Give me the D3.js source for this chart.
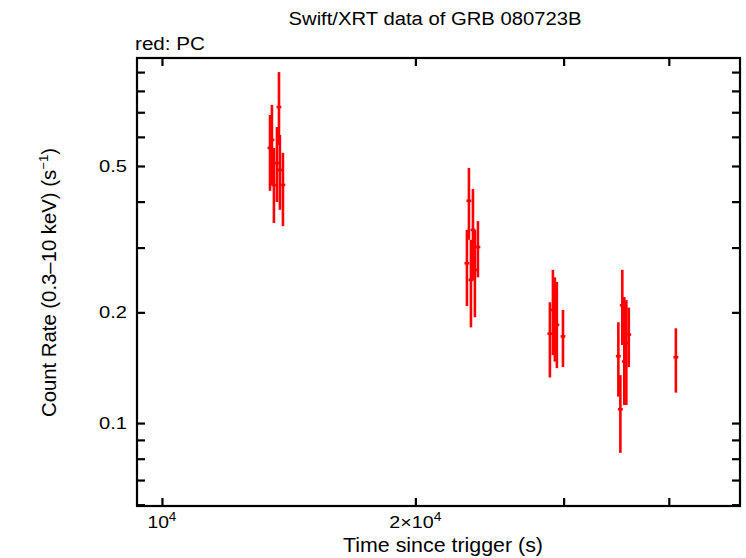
<!DOCTYPE html>
<html><head><meta charset="utf-8">
<script src="https://cdn.jsdelivr.net/npm/d3@7"></script>
<style>
html,body{margin:0;padding:0;background:#fff;}
text{font-family:"Liberation Sans",Arial,Helvetica,sans-serif;fill:#000;}
</style></head>
<body>
<svg id="chart" width="746" height="558"></svg>
<script>
// Data: time since trigger (s), count rate (s^-1), lower / upper rate bounds, half time-bin (s)
const times = [13438,13509,13583,13696,13772,13807,13922,
               23028,23155,23283,23411,23536,23732,
               28895,29135,29290,29451,29947,
               34845,35037,35224,35418,35614,35855,40780];
const rates = [0.560,0.589,0.444,0.509,0.723,0.488,0.444,
               0.272,0.402,0.245,0.335,0.261,0.301,
               0.175,0.203,0.193,0.185,0.172,
               0.152,0.109,0.209,0.147,0.165,0.174,0.151];
const rateLo = [0.428,0.444,0.350,0.399,0.570,0.380,0.343,
                0.208,0.315,0.182,0.245,0.194,0.249,
                0.133,0.153,0.147,0.141,0.142,
                0.118,0.083,0.163,0.112,0.112,0.142,0.121];
const rateHi = [0.688,0.733,0.560,0.638,0.900,0.607,0.543,
                0.335,0.494,0.315,0.433,0.335,0.354,
                0.213,0.261,0.249,0.242,0.203,
                0.188,0.135,0.261,0.220,0.216,0.206,0.181];
const timeErr = [90,90,90,90,90,90,90,
                 155,155,155,155,155,155,
                 195,195,195,195,195,
                 235,235,235,235,235,235,275];

const xTickVals = [10000,20000,30000,40000];
const xTickLabels = [["10","4"],["2×10","4"],null,null];
const yTickVals = [0.06,0.07,0.08,0.09,0.1,0.2,0.3,0.4,0.5,0.6,0.7,0.8,0.9];
const yTickLabels = {"0.1":"0.1","0.2":"0.2","0.5":"0.5"};

const W = 746, H = 558;
const m = {left:137, right:6, top:58, bottom:52};
const pw = W - m.left - m.right, ph = H - m.top - m.bottom;

const svg = d3.select("#chart");
const x = d3.scaleLog().domain([9340,48600]).range([m.left, m.left+pw]);
const y = d3.scaleLog().domain([0.0595,0.983]).range([m.top+ph, m.top]);

const data = times.map((t,i)=>({t, r:rates[i], lo:rateLo[i], hi:rateHi[i], te:timeErr[i]}));

// data
const g = svg.append("g");
g.selectAll("line.ey").data(data).enter().append("line")
  .attr("x1",d=>x(d.t)).attr("x2",d=>x(d.t))
  .attr("y1",d=>y(d.lo)).attr("y2",d=>y(d.hi))
  .attr("stroke","#ff0000").attr("stroke-width",2.6);
g.selectAll("line.ex").data(data).enter().append("line")
  .attr("x1",d=>x(d.t-d.te)).attr("x2",d=>x(d.t+d.te))
  .attr("y1",d=>y(d.r)).attr("y2",d=>y(d.r))
  .attr("stroke","#ff0000").attr("stroke-width",2.6);

// frame
svg.append("rect").attr("x",m.left).attr("y",m.top).attr("width",pw).attr("height",ph)
  .attr("fill","none").attr("stroke","#000").attr("stroke-width",2.2);

// axes (ticks inward on all four sides)
const tl = 8;
const axB = d3.axisBottom(x).tickValues(xTickVals).tickSize(-tl).tickFormat("");
const axT = d3.axisTop(x).tickValues(xTickVals).tickSize(-tl).tickFormat("");
const axL = d3.axisLeft(y).tickValues(yTickVals).tickSize(-tl).tickFormat("");
const axR = d3.axisRight(y).tickValues(yTickVals).tickSize(-tl).tickFormat("");
function style(sel){ sel.select(".domain").remove(); sel.selectAll(".tick line").attr("stroke","#000").attr("stroke-width",2.2); }
svg.append("g").attr("transform",`translate(0,${m.top+ph})`).call(axB).call(style);
svg.append("g").attr("transform",`translate(0,${m.top})`).call(axT).call(style);
svg.append("g").attr("transform",`translate(${m.left},0)`).call(axL).call(style);
svg.append("g").attr("transform",`translate(${m.left+pw},0)`).call(axR).call(style);

// x tick labels
const xLabW = [29, 52];
xTickVals.forEach((v,i)=>{
  const lab = xTickLabels[i]; if(!lab) return;
  const t = svg.append("text").attr("x",x(v)).attr("y",528)
     .attr("text-anchor","middle").attr("font-size",17)
     .attr("textLength",xLabW[i]).attr("lengthAdjust","spacingAndGlyphs");
  t.append("tspan").text(lab[0]);
  t.append("tspan").attr("font-size",12).attr("dy",-7).text(lab[1]);
});
// y tick labels
yTickVals.forEach(v=>{
  const k = String(v); if(!yTickLabels[k]) return;
  svg.append("text").attr("x",127).attr("y",y(v)).attr("dy","0.36em")
    .attr("text-anchor","end").attr("font-size",17)
    .attr("textLength",28).attr("lengthAdjust","spacingAndGlyphs").text(yTickLabels[k]);
});

// titles
svg.append("text").attr("x",435).attr("y",25).attr("text-anchor","middle")
  .attr("font-size",18).attr("textLength",293).attr("lengthAdjust","spacingAndGlyphs")
  .text("Swift/XRT data of GRB 080723B");
svg.append("text").attr("x",135).attr("y",50).attr("font-size",18)
  .attr("textLength",70).attr("lengthAdjust","spacingAndGlyphs").text("red: PC");
svg.append("text").attr("x",443).attr("y",552).attr("text-anchor","middle")
  .attr("font-size",20).attr("textLength",200).attr("lengthAdjust","spacingAndGlyphs")
  .text("Time since trigger (s)");
const yl = svg.append("text").attr("transform",`translate(56,282.5) rotate(-90)`)
  .attr("text-anchor","middle").attr("font-size",20)
  .attr("textLength",269).attr("lengthAdjust","spacingAndGlyphs");
yl.append("tspan").text("Count Rate (0.3–10 keV) (s");
yl.append("tspan").attr("font-size",13).attr("dy",-8).text("−1");
yl.append("tspan").attr("dy",8).text(")");
</script>
</body></html>
